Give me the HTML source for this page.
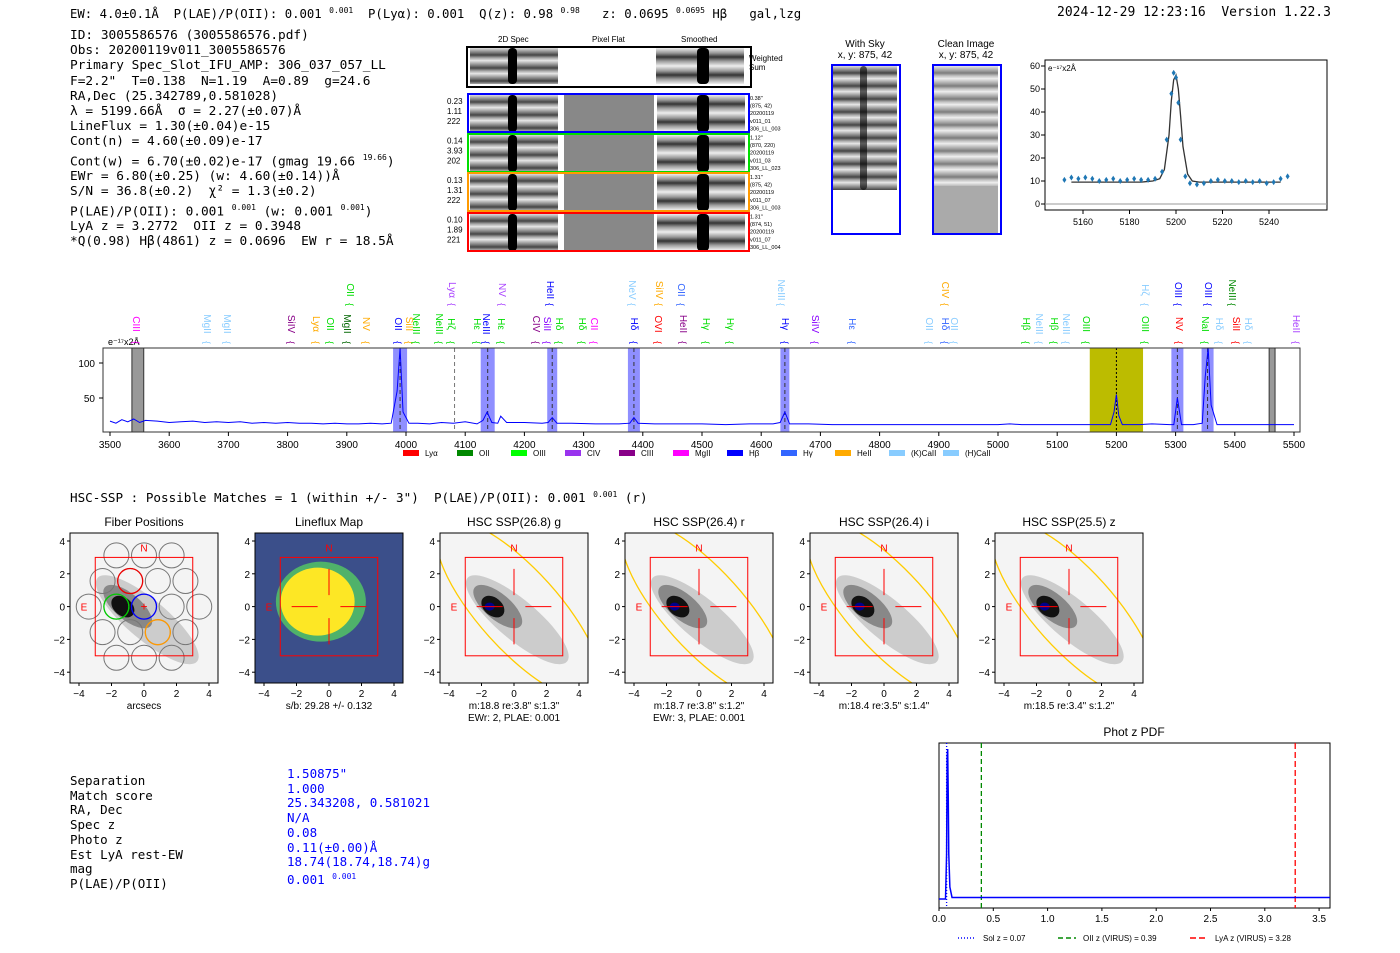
<!DOCTYPE html>
<html><head><meta charset="utf-8">
<style>
body{margin:0;background:#fff;width:1400px;height:953px;overflow:hidden;position:relative;font-family:"Liberation Sans",sans-serif}
.mono{font-family:"DejaVu Sans Mono","Liberation Mono",monospace;font-size:12.5px;position:absolute;white-space:pre;color:#000;line-height:15px}
.strip{position:absolute;background:repeating-linear-gradient(180deg,#ddd 0,#888 4px,#444 7px,#aaa 10px,#eee 13px)}
.dark{position:absolute;width:9px;background:#000;border-radius:4px}
.smooth{position:absolute;background:repeating-linear-gradient(180deg,#eee 0,#999 5px,#333 9px,#999 13px,#eee 18px)}
</style></head><body>
<svg width="1400" height="953" style="position:absolute;left:0;top:0" font-family="Liberation Sans, DejaVu Sans, sans-serif" id="svg">
</svg>

<div class="mono" style="left:70px;top:3px;font-size:12.3px">EW: 4.0±0.1Å  P(LAE)/P(OII): 0.001 <sup style="font-size:8px">0.001</sup>  P(Lyα): 0.001  Q(z): 0.98 <sup style="font-size:8px">0.98</sup>   z: 0.0695 <sup style="font-size:8px">0.0695</sup> Hβ   gal,lzg</div>
<div class="mono" style="left:1057px;top:5px;font-size:13px">2024-12-29 12:23:16  Version 1.22.3</div>
<div class="mono" style="left:70px;top:28px;line-height:15.2px;font-size:12.8px">ID: 3005586576 (3005586576.pdf)
Obs: 20200119v011_3005586576
Primary Spec_Slot_IFU_AMP: 306_037_057_LL
F=2.2"  T=0.138  N=1.19  A=0.89  g=24.6
RA,Dec (25.342789,0.581028)
λ = 5199.66Å  σ = 2.27(±0.07)Å
LineFlux = 1.30(±0.04)e-15
Cont(n) = 4.60(±0.09)e-17
Cont(w) = 6.70(±0.02)e-17 (gmag 19.66 <sup style="font-size:8px">19.66</sup>)
EWr = 6.80(±0.25) (w: 4.60(±0.14))Å
S/N = 36.8(±0.2)  χ² = 1.3(±0.2)
P(LAE)/P(OII): 0.001 <sup style="font-size:8px">0.001</sup> (w: 0.001 <sup style="font-size:8px">0.001</sup>)
LyA z = 3.2772  OII z = 0.3948
*Q(0.98) Hβ(4861) z = 0.0696  EW r = 18.5Å</div>

<div>
<div style="position:absolute;left:466px;top:46px;width:282px;height:38px;border:2px solid #000"></div>
<div class="strip" style="left:470px;top:48px;width:88px;height:36px"></div>
<div class="smooth" style="left:656px;top:48px;width:88px;height:36px"></div>
<div class="dark" style="left:508px;top:48px;height:36px"></div><div class="dark" style="left:697px;top:48px;height:36px;width:12px"></div>
</div>
<div id="cutrows"></div>
<div class="strip" style="left:833px;top:66px;width:64px;height:124px"></div>
<div class="dark" style="left:860px;top:66px;height:124px;width:7px;opacity:.6"></div>
<div style="position:absolute;left:831px;top:64px;width:66px;height:167px;border:2px solid #00f"></div>
<div class="strip" style="left:934px;top:66px;width:64px;height:120px;opacity:.7"></div>
<div style="position:absolute;left:934px;top:186px;width:64px;height:47px;background:#aaa"></div>
<div style="position:absolute;left:932px;top:64px;width:66px;height:167px;border:2px solid #00f"></div>

<div class="mono" style="left:70px;top:487px;font-size:12.6px">HSC-SSP : Possible Matches = 1 (within +/- 3")  P(LAE)/P(OII): 0.001 <sup style="font-size:8px">0.001</sup> (r)</div>
<div class="mono" style="left:70px;top:774px;line-height:14.7px">Separation
Match score
RA, Dec
Spec z
Photo z
Est LyA rest-EW
mag
P(LAE)/P(OII)</div>
<div class="mono" style="left:287px;top:767px;line-height:14.7px;color:#00f">1.50875"
1.000
25.343208, 0.581021
N/A
0.08
0.11(±0.00)Å
18.74(18.74,18.74)g
0.001 <sup style="font-size:8px">0.001</sup></div>

<script>
const NS='http://www.w3.org/2000/svg';
const svg=document.getElementById('svg');
function el(t,a,p){const e=document.createElementNS(NS,t);for(const k in a)e.setAttribute(k,a[k]);(p||svg).appendChild(e);return e;}
function tx(x,y,s,a,p){const e=el('text',Object.assign({x:x,y:y,'font-size':10},a||{}),p);e.textContent=s;return e;}

const rowColors=['#00f','#0d0','#f90','#f00'];
const rowLeft=[['0.23','1.11','222'],['0.14','3.93','202'],['0.13','1.31','222'],['0.10','1.89','221']];
const rowRight=[['0.38"','(875, 42)','20200119','v011_01','306_LL_003'],['1.12"','(870, 220)','20200119','v011_03','306_LL_023'],['1.31"','(875, 42)','20200119','v011_07','306_LL_003'],['1.31"','(874, 51)','20200119','v011_07','306_LL_004']];
const cr=document.getElementById('cutrows');
rowColors.forEach((c,i)=>{const y=95+i*39.5;
 cr.insertAdjacentHTML('beforeend',`<div class="strip" style="left:470px;top:${y}px;width:88px;height:37px"></div><div style="position:absolute;left:564px;top:${y}px;width:90px;height:37px;background:#888"></div><div class="smooth" style="left:657px;top:${y}px;width:88px;height:37px"></div><div class="dark" style="left:508px;top:${y}px;height:37px"></div><div class="dark" style="left:697px;top:${y}px;height:37px;width:12px"></div><div style="position:absolute;left:467px;top:${y-2}px;width:279px;height:36px;border:2px solid ${c}"></div>`);
 rowLeft[i].forEach((s,j)=>tx(447,y+9+j*10,s,{'font-size':8}));
 rowRight[i].forEach((s,j)=>tx(750,y+5+j*7.6,s,{'font-size':5.5}));
});
tx(498,42,'2D Spec',{'font-size':8});tx(592,42,'Pixel Flat',{'font-size':8});tx(681,42,'Smoothed',{'font-size':8});
tx(749,61,'Weighted',{'font-size':8});tx(749,70,'Sum',{'font-size':8});
tx(865,47,'With Sky',{'font-size':10,'text-anchor':'middle'});tx(865,58,'x, y: 875, 42',{'font-size':10,'text-anchor':'middle'});
tx(966,47,'Clean Image',{'font-size':10,'text-anchor':'middle'});tx(966,58,'x, y: 875, 42',{'font-size':10,'text-anchor':'middle'});

const fitWave=[5152,5155,5158,5161,5164,5167,5170,5173,5176,5179,5182,5185,5188,5191,5194,5196,5198,5199,5200,5201,5202,5204,5206,5209,5212,5215,5218,5221,5224,5227,5230,5233,5236,5239,5242,5245,5248];
const fitFlux=[10.5,11.5,11,11.5,11,10,10.5,11,10,10.5,11,10.5,10.5,11,14,28,48,57,55,44,28,12,9,8.5,9,10,10.5,10,10,9.5,10,9.5,10,9,9.5,11,12];
const modelWave=[5155,5185,5190,5193,5195,5197,5198,5199,5200,5201,5202,5203,5205,5207,5210,5245];
const modelFlux=[9.5,9.5,10,11,15,30,45,54,56,50,38,25,13,10,9.5,9.5];
(function(){const X=w=>1083+(w-5160)*2.325,Y=v=>204-v*2.3;
 el('rect',{x:1045,y:60,width:282,height:150,fill:'none',stroke:'#000','stroke-width':1,});
 el('line',{x1:1045,x2:1327,y1:Y(0),y2:Y(0),stroke:'#999'});
 [0,10,20,30,40,50,60].forEach(v=>{el('line',{x1:1041,x2:1045,y1:Y(v),y2:Y(v),stroke:'#000'});tx(1040,Y(v)+3,v,{'text-anchor':'end','font-size':9});});
 [5160,5180,5200,5220,5240].forEach(v=>{el('line',{x1:X(v),x2:X(v),y1:210,y2:214,stroke:'#000'});tx(X(v),225,v,{'text-anchor':'middle','font-size':9});});
 tx(1048,71,'e⁻¹⁷x2Å',{'font-size':8});
 el('polyline',{points:modelWave.map((w,i)=>X(w)+','+Y(modelFlux[i])).join(' '),fill:'none',stroke:'#333','stroke-width':1.3,});
 fitWave.forEach((w,i)=>{const d=el('path',{d:`M${X(w)},${Y(fitFlux[i])-3}l2,3l-2,3l-2,-3z`,fill:'#1f77b4'});
  
  });
})();

const specWave=[3500,3510,3520,3530,3540,3550,3560,3580,3600,3620,3640,3660,3680,3700,3720,3740,3760,3780,3800,3820,3840,3860,3880,3900,3920,3940,3960,3975,3985,3990,3995,4005,4020,4040,4060,4080,4100,4120,4130,4137,4145,4155,4160,4170,4200,4230,4240,4247,4255,4280,4320,4360,4378,4385,4392,4420,4460,4500,4540,4580,4620,4632,4640,4648,4680,4720,4760,4800,4840,4880,4920,4960,5000,5020,5040,5080,5120,5160,5190,5196,5200,5204,5210,5240,5260,5290,5297,5303,5310,5330,5345,5350,5355,5360,5370,5400,5440,5480,5500];
const specFlux=[17,14,19,16,20,15,18,17,15,16,17,15,16,15,16,14,15,14,15,14,14,13,14,13,13,14,13,14,60,125,30,14,14,13,15,14,16,13,18,30,15,14,24,15,15,14,15,22,14,14,13,13,14,22,14,13,13,13,12,13,13,15,30,13,13,12,12,12,12,12,12,12,12,13,12,12,12,12,12,30,55,25,12,12,13,12,12,50,12,12,14,80,125,40,12,12,12,12,12];
(function(){const X=w=>110+(w-3500)*0.592,Y=v=>Math.max(348,433-v*0.7);
 const g=el('g',{});
 [[3990,14,'#33f'],[4138,14,'#33f'],[4247,10,'#33f'],[4385,12,'#33f'],[4640,9,'#33f'],[5303,12,'#33f'],[5354,12,'#33f']].forEach(b=>{el('rect',{x:X(b[0])-b[1]/2,y:348,width:b[1],height:84,fill:b[2],opacity:.55},g);el('line',{x1:X(b[0]),x2:X(b[0]),y1:348,y2:432,stroke:'#333','stroke-dasharray':'4,3'},g);});
 el('rect',{x:X(5155),y:348,width:X(5245)-X(5155),height:84,fill:'#bcbc00'},g);
 el('line',{x1:X(5200),x2:X(5200),y1:348,y2:432,stroke:'#000','stroke-dasharray':'2,2'},g);
 el('line',{x1:X(4082),x2:X(4082),y1:348,y2:432,stroke:'#777','stroke-dasharray':'4,3'},g);
 [[3537,3557],[5458,5468]].forEach(r=>{el('rect',{x:X(r[0]),y:348,width:X(r[1])-X(r[0]),height:84,fill:'#999',stroke:'#333'},g);});
 el('polyline',{points:specWave.map((w,i)=>X(w)+','+Y(specFlux[i])).join(' '),fill:'none',stroke:'#00f','stroke-width':1,},g);
 el('rect',{x:103,y:348,width:1197,height:84,fill:'none',stroke:'#333'},g);
 [50,100].forEach(v=>{el('line',{x1:99,x2:103,y1:433-v*0.7,y2:433-v*0.7,stroke:'#000'},g);tx(95,437-v*0.7,v,{'text-anchor':'end'},g);});
 for(let w=3500;w<=5500;w+=100){el('line',{x1:X(w),x2:X(w),y1:432,y2:436,stroke:'#000'},g);tx(X(w),448,w,{'text-anchor':'middle'},g);}
 tx(108,345,'e⁻¹⁷x2Å',{'font-size':9},g);
})();
const LB=[[137,'CIII','#f0f',0],[208,'MgII','#8cf',0],[228,'MgII','#8cf',0],[292,'SiIV','#808',0],[317,'Lyα','#fa0',0],[331,'OII','#0d0',0],[348,'MgII','#060',0],[367,'NV','#fa0',0],[399,'OII','#00f',0],[410,'SiII','#fa0',0],[417,'NeIII','#0d0',0],[440,'NeIII','#0d0',0],[452,'Hζ','#0d0',0],[478,'Hε','#0d0',0],[487,'NeIII','#00f',0],[502,'Hε','#0d0',0],[537,'CIV','#808',0],[548,'SiII','#80f',0],[560,'Hδ','#0d0',0],[583,'Hδ','#0d0',0],[595,'CII','#f0f',0],[635,'Hδ','#00f',0],[659,'OVI','#f00',0],[684,'HeII','#808',0],[707,'Hγ','#0d0',0],[731,'Hγ','#0d0',0],[786,'Hγ','#00f',0],[816,'SiIV','#80f',0],[853,'Hε','#36f',0],[930,'OII','#8cf',0],[946,'Hδ','#36f',0],[955,'OII','#8cf',0],[1027,'Hβ','#0d0',0],[1040,'NeIII','#8cf',0],[1055,'Hβ','#0d0',0],[1067,'NeIII','#8cf',0],[1087,'OIII','#0d0',0],[1146,'OIII','#0d0',0],[1180,'NV','#f00',0],[1206,'NaI','#0d0',0],[1220,'Hδ','#8cf',0],[1237,'SiII','#f00',0],[1249,'Hδ','#8cf',0],[1297,'HeII','#a4f',0],
[351,'OII','#0d0',1],[453,'Lyα','#a4f',1],[503,'NV','#a4f',1],[551,'HeII','#00f',1],[633,'NeV','#8cf',1],[660,'SiIV','#fa0',1],[682,'OII','#36f',1],[782,'NeIII','#8cf',1],[946,'CIV','#fa0',1],[1146,'Hζ','#8cf',1],[1179,'OIII','#00f',1],[1209,'OIII','#00f',1],[1233,'NeIII','#080',1]];
LB.forEach(l=>{const y0=l[3]?290:324;const t=tx(l[0]-4,y0,l[1],{'font-size':10,fill:l[2],transform:`rotate(90 ${l[0]-4} ${y0})`,'text-anchor':'middle'});
 const yb=y0+(l[3]?13:17);tx(l[0]-4,yb,'{',{'font-size':9,fill:l[2],transform:`rotate(90 ${l[0]-4} ${yb})`});});
[['Lyα','#f00'],['OII','#080'],['OIII','#0f0'],['CIV','#93e'],['CIII','#808'],['MgII','#f0f'],['Hβ','#00f'],['Hγ','#36f'],['HeII','#fa0'],['(K)CaII','#8cf'],['(H)CaII','#8cf']].forEach((l,i)=>{const x=403+i*54;el('rect',{x:x,y:450,width:16,height:6,fill:l[1]});tx(x+22,456,l[0],{'font-size':8});});

const panelTitles=['Fiber Positions','Lineflux Map','HSC SSP(26.8) g','HSC SSP(26.4) r','HSC SSP(26.4) i','HSC SSP(25.5) z'];
const panelSub=[['arcsecs'],['s/b: 29.28 +/- 0.132'],['m:18.8  re:3.8"  s:1.3"','EWr: 2, PLAE: 0.001'],['m:18.7  re:3.8"  s:1.2"','EWr: 3, PLAE: 0.001'],['m:18.4  re:3.5"  s:1.4"'],['m:18.5  re:3.4"  s:1.2"']];
const axTicks=[-4,-2,0,2,4];
const defs=el('defs',{});
panelTitles.forEach((t,i)=>{const L=70+i*185,T=533,W=148,H=150;const X=v=>L+9+(v+4)*16.25,Y=v=>T+8+(4-v)*16.4;
 const cp=el('clipPath',{id:'cp'+i},defs);el('rect',{x:L,y:T,width:W,height:H},cp);
 const g0=el('g',{});
 const g=el('g',{'clip-path':`url(#cp${i})`},g0);
 tx(L+W/2,526,t,{'font-size':12,'text-anchor':'middle'},g0);
 if(i==1){el('rect',{x:L,y:T,width:W,height:H,fill:'#3b4f8a'},g);el('ellipse',{cx:X(-0.5),cy:Y(0.3),rx:45,ry:40,fill:'#4fb26a'},g);el('ellipse',{cx:X(-0.7),cy:Y(0.3),rx:37,ry:34,fill:'#fde725'},g);}
 else{el('rect',{x:L,y:T,width:W,height:H,fill:'#f4f4f4'},g);
  el('ellipse',{cx:X(0.2),cy:Y(-0.8),rx:65,ry:20,fill:'#ccc',transform:`rotate(40 ${X(0.2)} ${Y(-0.8)})`},g);
  el('ellipse',{cx:X(-1),cy:Y(0),rx:30,ry:13,fill:'#888',transform:`rotate(40 ${X(-1)} ${Y(0)})`},g);
  el('ellipse',{cx:X(-1.3),cy:Y(0),rx:13,ry:9,fill:'#111',transform:`rotate(40 ${X(-1.3)} ${Y(0)})`},g);
  if(i>=2){el('ellipse',{cx:X(-1.5),cy:Y(0),rx:5,ry:4,fill:'#00008b'},g);
   el('ellipse',{cx:X(0.3),cy:Y(-0.2),rx:115,ry:40,fill:'none',stroke:'#fc0','stroke-width':1.3,transform:`rotate(48 ${X(0.3)} ${Y(-0.2)})`},g);}
 }
 if(i==0){[[-1,2],[1,2],[-2,0],[0,0],[2,0],[-1,-2],[1,-2],[-3,2],[3,2],[-3,-2],[3,-2],[0,4],[-2,4],[2,4],[-4,0],[4,0],[0,-4],[-2,-4],[2,-4]].forEach(p=>el('circle',{cx:X(p[0]*0.85),cy:Y(p[1]*0.78),r:12.5,fill:'none',stroke:'#777'},g));
  el('circle',{cx:X(-0.85),cy:Y(1.56),r:12.5,fill:'none',stroke:'#e00','stroke-width':1.3},g);el('circle',{cx:X(0),cy:Y(0),r:12.5,fill:'none',stroke:'#00f','stroke-width':1.3},g);el('circle',{cx:X(-1.7),cy:Y(0),r:12.5,fill:'none',stroke:'#0c0','stroke-width':1.3},g);el('circle',{cx:X(0.85),cy:Y(-1.56),r:12.5,fill:'none',stroke:'#f90','stroke-width':1.3},g);}
 el('rect',{x:X(-3),y:Y(3),width:X(3)-X(-3),height:Y(-3)-Y(3),fill:'none',stroke:'#f00','stroke-width':1},g);
 if(i>0){el('line',{x1:X(-2.3),x2:X(-0.7),y1:Y(0),y2:Y(0),stroke:'#f00'},g);el('line',{x1:X(0.7),x2:X(2.3),y1:Y(0),y2:Y(0),stroke:'#f00'},g);el('line',{x1:X(0),x2:X(0),y1:Y(2.3),y2:Y(0.7),stroke:'#f00'},g);el('line',{x1:X(0),x2:X(0),y1:Y(-0.7),y2:Y(-2.3),stroke:'#f00'},g);}
 else tx(X(0),Y(0)+4,'+',{fill:'#f00','font-size':12,'text-anchor':'middle'},g);
 tx(X(0),Y(3.6)+4,'N',{fill:'#f00','font-size':10,'text-anchor':'middle'},g);tx(X(-3.9),Y(0)+4,'E',{fill:'#f00','font-size':10},g);
 el('rect',{x:L,y:T,width:W,height:H,fill:'none',stroke:'#000'},g0);
 axTicks.forEach(v=>{el('line',{x1:L-3,x2:L,y1:Y(v),y2:Y(v),stroke:'#000'},g0);tx(L-5,Y(v)+4,v==0?'0':(v<0?'−'+(-v):v),{'text-anchor':'end','font-size':10},g0);
  el('line',{x1:X(v),x2:X(v),y1:T+H,y2:T+H+3,stroke:'#000'},g0);tx(X(v),T+H+14,v==0?'0':(v<0?'−'+(-v):v),{'text-anchor':'middle','font-size':10},g0);});
 panelSub[i].forEach((s,j)=>tx(L+W/2,T+H+26+j*12,s,{'text-anchor':'middle','font-size':10},g0));
});

const pdfZ=[0,0.06,0.07,0.075,0.08,0.085,0.09,0.1,0.12,0.2,3.6];
const pdfP=[0,0,0.3,0.95,1,0.7,0.3,0.08,0.01,0.01,0.01];
const pdfMarks=[[0.07,'#00f','1,2','Sol z = 0.07'],[0.39,'#080','5,3','OII z (VIRUS) = 0.39'],[3.28,'#f00','6,3','LyA z (VIRUS) = 3.28']];
(function(){const X=z=>939+z*108.6,Y=p=>899-p*150;
 const g=el('g',{});
 tx(1134,736,'Phot z PDF',{'font-size':12,'text-anchor':'middle'},g);
 el('rect',{x:939,y:743,width:391,height:165,fill:'none',stroke:'#000'},g);
 pdfMarks.forEach(m=>el('line',{x1:X(m[0]),x2:X(m[0]),y1:743,y2:908,stroke:m[1],'stroke-dasharray':m[2],'stroke-width':1.3},g));
 el('polyline',{points:pdfZ.map((z,i)=>X(z)+','+Y(pdfP[i])).join(' '),fill:'none',stroke:'#00f','stroke-width':1.5,},g);
 for(let z=0;z<=3.5;z+=0.5){el('line',{x1:X(z),x2:X(z),y1:908,y2:911,stroke:'#000'},g);tx(X(z),922,z.toFixed(1),{'text-anchor':'middle','font-size':10},g);}
 pdfMarks.forEach((m,i)=>{const x=[958,1058,1190][i];el('line',{x1:x,x2:x+18,y1:938,y2:938,stroke:m[1],'stroke-dasharray':m[2],'stroke-width':1.5},g);tx(x+25,941,m[3],{'font-size':8},g);});
})();
</script>
</body></html>
